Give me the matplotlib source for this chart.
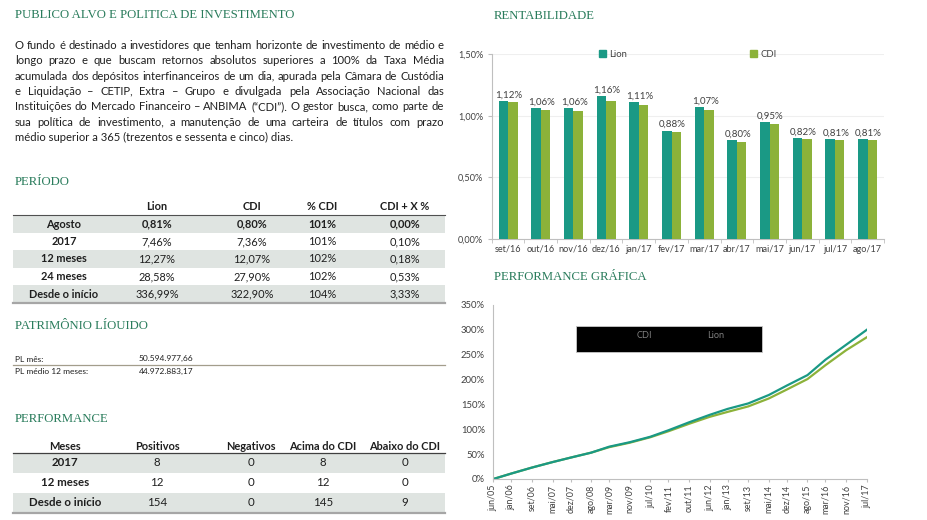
import numpy as np
import matplotlib
matplotlib.use("Agg")
import matplotlib.pyplot as plt
from matplotlib.patches import Rectangle, Patch
from matplotlib.ticker import FuncFormatter

# ---------------- data ----------------
bar_months = ["set/16", "out/16", "nov/16", "dez/16", "jan/17", "fev/17",
              "mar/17", "abr/17", "mai/17", "jun/17", "jul/17", "ago/17"]
lion_month = [1.12, 1.06, 1.06, 1.16, 1.11, 0.88, 1.07, 0.80, 0.95, 0.82, 0.81, 0.81]
cdi_month = [1.11, 1.05, 1.04, 1.12, 1.09, 0.87, 1.05, 0.79, 0.93, 0.81, 0.80, 0.80]

perf_dates = ["jun/05", "jan/06", "set/06", "mai/07", "dez/07", "ago/08", "mar/09",
              "nov/09", "jul/10", "fev/11", "out/11", "jun/12", "jan/13", "set/13",
              "mai/14", "dez/14", "ago/15", "mar/16", "nov/16", "jul/17"]
lion_cum = [0, 11, 23, 34, 43, 53, 65, 74, 85, 98, 114, 129, 141, 152, 169, 188, 209, 240, 270, 300]
cdi_cum = [0, 11, 23, 34, 43, 53, 64, 73, 84, 96, 111, 125, 135, 146, 162, 180, 201, 229, 259, 285]

periodo_cols = ["Lion", "CDI", "% CDI", "CDI + X %"]
periodo_rows = ["Agosto", "2017", "12 meses", "24 meses", "Desde o início"]
periodo_lion = ["0,81%", "7,46%", "12,27%", "28,58%", "336,99%"]
periodo_cdi = ["0,80%", "7,36%", "12,07%", "27,90%", "322,90%"]
periodo_pct = ["101%", "101%", "102%", "102%", "104%"]
periodo_x = ["0,00%", "0,10%", "0,18%", "0,53%", "3,33%"]

pl_labels = ["PL mês:", "PL médio 12 meses:"]
pl_values = ["50.594.977,66", "44.972.883,17"]

perf_cols = ["Meses", "Positivos", "Negativos", "Acima do CDI", "Abaixo do CDI"]
perf_rows = ["2017", "12 meses", "Desde o início"]
perf_pos = [8, 12, 154]
perf_neg = [0, 0, 0]
perf_above = [8, 12, 145]
perf_below = [0, 0, 9]

paragraph = [
    "O fundo é destinado a investidores que tenham horizonte de investimento de médio e",
    "longo prazo e que buscam retornos absolutos superiores a 100% da Taxa Média",
    "acumulada dos depósitos interfinanceiros de um dia, apurada pela Câmara de Custódia",
    "e Liquidação – CETIP, Extra – Grupo e divulgada pela Associação Nacional das",
    "Instituições do Mercado Financeiro – ANBIMA (“CDI”). O gestor busca, como parte de",
    "sua política de investimento, a manutenção de uma carteira de títulos com prazo",
    "médio superior a 365 (trezentos e sessenta e cinco) dias.",
]

# ---------------- style ----------------
TEAL = "#1a9985"
GREEN = "#8cb23a"
TITLE = "#2a7c5c"
TXT = "#1f1f1f"
AXT = "#404040"
BAND = "#dfe4e1"
SANS = ["Lato", "DejaVu Sans"]
SERIF = ["Liberation Serif", "DejaVu Serif"]
plt.rcParams["font.family"] = SANS

W, H = 927, 520
fig = plt.figure(figsize=(W / 100, H / 100), dpi=100)


def fax(l, t, r, b):
    return [l / W, 1 - b / H, (r - l) / W, (b - t) / H]


def pct_fmt(v, _=None):
    return f"{v:.2f}%".replace(".", ",")


# ---------------- bar chart ----------------
ax = fig.add_axes(fax(491.7, 54.3, 884, 239))
x = np.arange(len(bar_months))
bw = 0.29
ax.bar(x - bw / 2, lion_month, bw, color=TEAL, zorder=3, label="Lion")
ax.bar(x + bw / 2, cdi_month, bw, color=GREEN, zorder=3, label="CDI")
for i, v in enumerate(lion_month):
    ax.annotate(pct_fmt(v), (x[i] + 0.03, v), xytext=(0, 1.2), textcoords="offset points",
                ha="center", va="bottom", fontsize=7.0, color=AXT)
ax.set_xlim(-0.5, len(bar_months) - 0.5)
ax.set_ylim(0, 1.5)
ax.set_yticks([0, 0.5, 1.0, 1.5])
ax.yaxis.set_major_formatter(FuncFormatter(pct_fmt))
ax.set_xticks(x)
ax.set_xticklabels(bar_months)
ax.set_xticks(np.arange(len(bar_months) + 1) - 0.5, minor=True)
ax.tick_params(axis="x", which="major", length=0, labelsize=6.6, colors=AXT, pad=4)
ax.tick_params(axis="x", which="minor", length=3, color="#bfbfbf")
ax.tick_params(axis="y", length=3, color="#bfbfbf", labelsize=6.6, labelcolor=AXT, pad=3)
ax.grid(axis="y", color="#efefef", lw=0.8, zorder=0)
for s in ["top", "right"]:
    ax.spines[s].set_visible(False)
for s in ["left", "bottom"]:
    ax.spines[s].set_color("#bfbfbf")
ax.legend(handles=[Patch(color=TEAL, label="Lion"), Patch(color=GREEN, label="CDI")],
          loc="center", bbox_to_anchor=(0.5, 1.0), ncol=2, frameon=False,
          columnspacing=13, handlelength=0.7, handleheight=0.7, handletextpad=0.4,
          fontsize=6.8, labelcolor=AXT)

# ---------------- line chart ----------------
mon = {"jan": 1, "fev": 2, "mar": 3, "abr": 4, "mai": 5, "jun": 6, "jul": 7,
       "ago": 8, "set": 9, "out": 10, "nov": 11, "dez": 12}
idx = [(int(d[4:]) - 5) * 12 + mon[d[:3]] - 6 for d in perf_dates]
axl = fig.add_axes(fax(493.3, 305, 866.7, 479))
axl.plot(idx, cdi_cum, color=GREEN, lw=1.6, solid_joinstyle="round")
axl.plot(idx, lion_cum, color=TEAL, lw=1.6, solid_joinstyle="round")
axl.set_xlim(idx[0], idx[-1])
axl.set_ylim(0, 350)
axl.set_yticks(np.arange(0, 351, 50))
axl.yaxis.set_major_formatter(FuncFormatter(lambda v, _: f"{v:.0f}%"))
axl.set_xticks(idx)
axl.set_xticklabels(perf_dates, rotation=90)
axl.tick_params(axis="x", length=2, color="#bfbfbf", labelsize=6.4, labelcolor=AXT, pad=2)
axl.tick_params(axis="y", length=0, labelsize=6.8, labelcolor=AXT, pad=6)
for s in ["top", "right"]:
    axl.spines[s].set_visible(False)
for s in ["left", "bottom"]:
    axl.spines[s].set_color("#bfbfbf")

# ---------------- overlay (text, tables) ----------------
bg = fig.add_axes([0, 0, 1, 1], zorder=10)
bg.set_xlim(0, W)
bg.set_ylim(H, 0)
bg.axis("off")
bg.patch.set_alpha(0)
R = fig.canvas.get_renderer()


def T(x, y, s, size, ha="left", va="center", bold=False, color=TXT, family=SANS):
    return bg.text(x, y, s, fontsize=size, ha=ha, va=va, color=color, family=family,
                   fontweight="bold" if bold else "normal")


def width_of(s, size, family, bold=False):
    t = T(0, 0, s, size, family=family, bold=bold)
    w = t.get_window_extent(R).width
    t.remove()
    return w


# section titles
tsize = 10 * 282 / width_of("PUBLICO ALVO E POLITICA DE INVESTIMENTO", 10, SERIF)
T(15, 15, "PUBLICO ALVO E POLITICA DE INVESTIMENTO", tsize, color=TITLE, family=SERIF)
T(15, 182, "PERÍODO", tsize, color=TITLE, family=SERIF)
T(15, 326, "PATRIMÔNIO LÍOUIDO", tsize, color=TITLE, family=SERIF)
T(15, 419, "PERFORMANCE", tsize, color=TITLE, family=SERIF)
T(494, 16, "RENTABILIDADE", tsize, color=TITLE, family=SERIF)
T(494, 277, "PERFORMANCE GRÁFICA", tsize, color=TITLE, family=SERIF)

# justified paragraph
x0, x1 = 15, 444
psize = 10 * (x1 - x0) / width_of(paragraph[0], 10, SANS) * 0.995
for i, line in enumerate(paragraph):
    y = 45.5 + i * 15.3
    if i == len(paragraph) - 1:
        T(x0, y, line, psize)
        continue
    words = line.split(" ")
    arts = [T(0, y, w_, psize) for w_ in words]
    widths = [a.get_window_extent(R).width for a in arts]
    gap = (x1 - x0 - sum(widths)) / (len(words) - 1)
    xx = x0
    for a, w_ in zip(arts, widths):
        a.set_x(xx)
        xx += w_ + gap

# Periodo table
tx0, tx1 = 13, 445
colx = [64, 157, 252, 322, 405]
fs_tab = 7.9
for j, c in enumerate(periodo_cols):
    T(colx[j + 1], 207, c, fs_tab, ha="center", bold=True)
row_y = [224, 241.5, 259, 276.5, 294]
for i, lab in enumerate(periodo_rows):
    if i % 2 == 0:
        bg.add_patch(Rectangle((tx0, row_y[i] - 8.7), tx1 - tx0, 17.4, color=BAND, lw=0))
    vals = [periodo_lion[i], periodo_cdi[i], periodo_pct[i], periodo_x[i]]
    T(colx[0], row_y[i], lab, fs_tab, ha="center", bold=True)
    for j, v in enumerate(vals):
        T(colx[j + 1], row_y[i], v, fs_tab, ha="center", bold=(i == 0))
bg.plot([tx0, tx1], [215.3, 215.3], color="#505050", lw=0.8)
bg.plot([tx0, tx1], [303.3, 303.3], color="#a6a6a6", lw=1.6)

# Patrimonio
T(15, 359, pl_labels[0], 6.0)
T(139, 358.5, pl_values[0], 6.0)
T(15, 372, pl_labels[1], 6.0)
T(139, 371, pl_values[1], 6.0)
bg.plot([tx0, tx1], [364.5, 364.5], color="#a39d8c", lw=0.9)

# Performance table
pcolx = [65, 157, 251, 323, 405]
for j, c in enumerate(perf_cols):
    T(pcolx[j], 446, c, fs_tab, ha="center", bold=True)
prow_y = [463, 482.5, 502.5]
for i, lab in enumerate(perf_rows):
    if i % 2 == 0:
        bg.add_patch(Rectangle((tx0, prow_y[i] - 9.8), tx1 - tx0, 19.6, color=BAND, lw=0))
    T(pcolx[0], prow_y[i], lab, 8.3, ha="center", bold=True)
    for j, v in enumerate([perf_pos[i], perf_neg[i], perf_above[i], perf_below[i]]):
        T(pcolx[j + 1], prow_y[i], str(v), 8.3, ha="center")
bg.plot([tx0, tx1], [453.2, 453.2], color="#404040", lw=0.9)
bg.plot([tx0, tx1], [512.5, 512.5], color="#a6a6a6", lw=1.6)

# black legend box of the performance chart
bg.add_patch(Rectangle((576, 325.7), 186, 26.6, facecolor="black", edgecolor="#c8c8c8", lw=0.6))
T(644, 335, "CDI", 6.6, ha="center", color="#7f7f7f")
T(716, 335, "Lion", 6.6, ha="center", color="#7f7f7f")

fig.savefig("out.png", dpi=100)
